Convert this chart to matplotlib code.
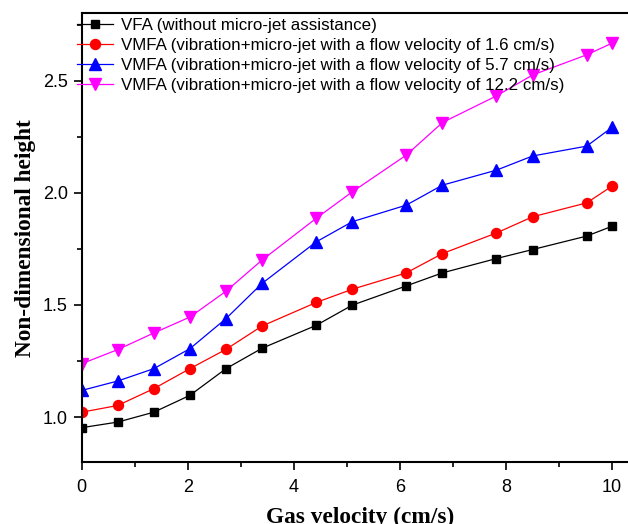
import matplotlib
matplotlib.use("Agg")
import matplotlib.pyplot as plt
from matplotlib.ticker import MultipleLocator

# gas velocity (cm/s)
gas_velocity = [0, 0.68, 1.36, 2.04, 2.72, 3.4, 4.42, 5.1, 6.12, 6.8, 7.82, 8.5, 9.52, 10]

# non-dimensional height for each case
vfa = [0.953, 0.978, 1.022, 1.097, 1.216, 1.307, 1.409, 1.499, 1.585, 1.643, 1.707, 1.747, 1.807, 1.851]
vmfa_16 = [1.022, 1.052, 1.127, 1.216, 1.302, 1.406, 1.511, 1.570, 1.643, 1.729, 1.821, 1.893, 1.955, 2.030]
vmfa_57 = [1.119, 1.161, 1.216, 1.305, 1.439, 1.596, 1.781, 1.871, 1.945, 2.034, 2.101, 2.164, 2.208, 2.292]
vmfa_122 = [1.238, 1.301, 1.375, 1.446, 1.561, 1.700, 1.886, 2.004, 2.168, 2.313, 2.432, 2.525, 2.615, 2.667]

labels = [
    "VFA (without micro-jet assistance)",
    "VMFA (vibration+micro-jet with a flow velocity of 1.6 cm/s)",
    "VMFA (vibration+micro-jet with a flow velocity of 5.7 cm/s)",
    "VMFA (vibration+micro-jet with a flow velocity of 12.2 cm/s)",
]

plt.rcParams['font.family'] = ['Liberation Sans', 'DejaVu Sans']

fig = plt.figure(figsize=(6.28, 5.24), dpi=100)
# axes runs off the right edge of the picture, like the reference
ax = fig.add_axes([0.130, 0.1183, 0.887, 0.8563])

series = [
    (vfa, 'black', 's', 6),
    (vmfa_16, 'red', 'o', 7.2),
    (vmfa_57, 'blue', '^', 8),
    (vmfa_122, 'magenta', 'v', 8),
]
for (vals, col, mk, ms), lab in zip(series, labels):
    ax.plot(gas_velocity, vals, color=col, lw=0.9,
            marker=mk, markersize=ms, markerfacecolor=col,
            markeredgecolor=col, label=lab)

ax.set_xlim(0, 10.5)
ax.set_ylim(0.8, 2.8)
ax.xaxis.set_major_locator(MultipleLocator(2))
ax.xaxis.set_minor_locator(MultipleLocator(1))
ax.yaxis.set_major_locator(MultipleLocator(0.5))
ax.yaxis.set_minor_locator(MultipleLocator(0.25))
ax.tick_params(which='both', direction='out', top=False, right=False,
               labelsize=13, width=1.2)
ax.tick_params(which='major', length=6, pad=4)
ax.tick_params(axis='x', which='major', pad=6)
ax.tick_params(which='minor', length=3.5)
for sp in ax.spines.values():
    sp.set_linewidth(1.5)

ax.set_xlabel("Gas velocity (cm/s)", family='Liberation Serif',
              fontweight='bold', fontsize=16.8, labelpad=8)
ax.set_ylabel("Non-dimensional height", family='Liberation Serif',
              fontweight='bold', fontsize=16.8, labelpad=5)

ax.legend(loc='upper left', bbox_to_anchor=(-0.009, 0.99), frameon=False,
          fontsize=12.2, handlelength=2.13, handletextpad=0.5,
          labelspacing=0.3, borderaxespad=0, borderpad=0)

fig.savefig("out.png", dpi=100)
